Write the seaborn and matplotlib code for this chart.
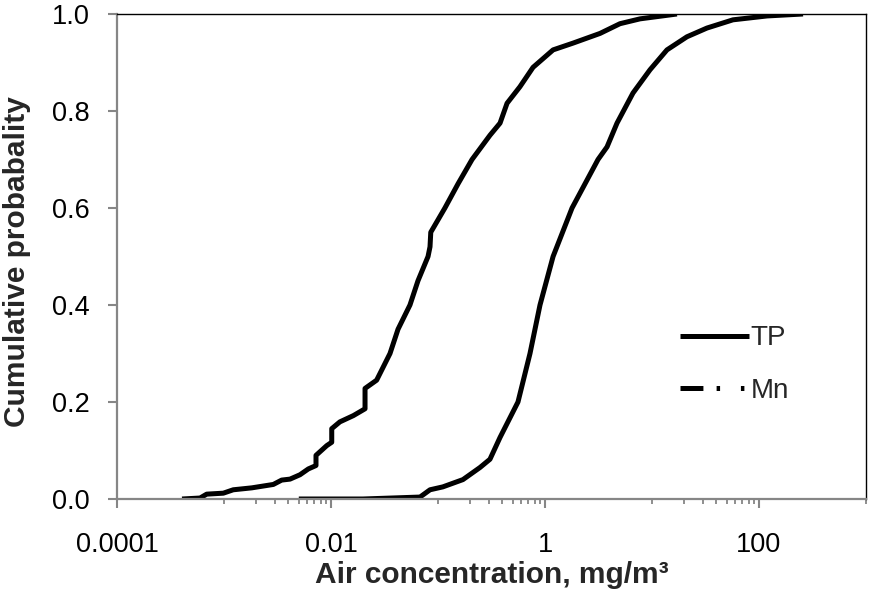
import matplotlib
matplotlib.use("Agg")
import matplotlib.pyplot as plt
import numpy as np
import pandas as pd
import seaborn as sns
from matplotlib.lines import Line2D
from matplotlib.ticker import FixedLocator, FixedFormatter, NullFormatter

# ---- data ----
series_names = ["TP", "Mn"]

tp_conc = [0.005, 0.0199, 0.0679, 0.0842, 0.111, 0.171, 0.247, 0.306, 0.380,
           0.559, 0.724, 0.898, 1.19, 1.79, 3.13, 3.80, 4.71, 6.64, 9.58,
           13.8, 21.2, 32.6, 57.1, 119, 258]
tp_prob = [0.0, 0.0, 0.004, 0.019, 0.025, 0.040, 0.065, 0.082, 0.127,
           0.20, 0.30, 0.40, 0.50, 0.60, 0.70, 0.726, 0.775, 0.837, 0.885,
           0.926, 0.953, 0.971, 0.988, 0.996, 1.0]

mn_conc = [0.000405, 0.000597, 0.000689, 0.000985, 0.00122, 0.00182, 0.00289,
           0.00346, 0.00414, 0.00513, 0.00614, 0.00724, 0.00724, 0.00912,
           0.01016, 0.01016, 0.0121, 0.0162, 0.0208, 0.0208, 0.0267, 0.0356,
           0.0423, 0.0547, 0.065, 0.0807, 0.0842, 0.0856, 0.116, 0.154, 0.208,
           0.306, 0.380, 0.442, 0.583, 0.773, 1.19, 1.83, 3.27, 4.32, 5.02,
           7.73, 17.1]
mn_prob = [0.0, 0.002, 0.010, 0.012, 0.019, 0.023, 0.030,
           0.039, 0.041, 0.050, 0.062, 0.069, 0.090, 0.110,
           0.117, 0.145, 0.159, 0.172, 0.186, 0.228, 0.245, 0.30,
           0.35, 0.40, 0.45, 0.50, 0.52, 0.55, 0.60, 0.65, 0.70,
           0.75, 0.775, 0.816, 0.85, 0.89, 0.926, 0.94, 0.96, 0.973, 0.98,
           0.99, 1.0]

x_major_ticks = [1e-4, 1e-2, 1, 100]
x_tick_labels = ["0.0001", "0.01", "1", "100"]
y_ticks = [0.0, 0.2, 0.4, 0.6, 0.8, 1.0]
y_tick_labels = ["0.0", "0.2", "0.4", "0.6", "0.8", "1.0"]

df = pd.DataFrame({
    "conc": tp_conc + mn_conc,
    "prob": tp_prob + mn_prob,
    "series": [series_names[0]] * len(tp_conc) + [series_names[1]] * len(mn_conc),
})

# ---- style ----
sns.set_theme(style="white")
plt.rcParams["font.family"] = ["Liberation Sans", "DejaVu Sans"]
plt.rcParams["lines.scale_dashes"] = False

W, H = 869, 589
fig = plt.figure(figsize=(W / 100, H / 100), dpi=100)
L, R, T, B = 117, 866, 14, 499
ax = fig.add_axes([L / W, 1 - B / H, (R - L) / W, (B - T) / H])

sns.lineplot(data=df, x="conc", y="prob", hue="series",
             palette={"TP": "black", "Mn": "black"},
             estimator=None, sort=False, units="series", legend=False,
             linewidth=3.6, ax=ax)
for ln in ax.lines:
    ln.set_solid_joinstyle("round")
    ln.set_solid_capstyle("butt")

ax.set_xscale("log")
ax.set_xlim(1e-4, 1e3)
ax.set_ylim(0, 1)

minor = [k * 10.0 ** e for e in (-3, -1, 1) for k in range(1, 10)] + [1000]
ax.xaxis.set_major_locator(FixedLocator(x_major_ticks))
ax.xaxis.set_major_formatter(FixedFormatter(x_tick_labels))
ax.xaxis.set_minor_locator(FixedLocator(minor))
ax.xaxis.set_minor_formatter(NullFormatter())
ax.yaxis.set_major_locator(FixedLocator(y_ticks))
ax.yaxis.set_major_formatter(FixedFormatter(y_tick_labels))

gray = "#868686"
for s in ("left", "bottom"):
    ax.spines[s].set_color(gray)
    ax.spines[s].set_linewidth(1.6)
for s in ("top", "right"):
    ax.spines[s].set_color("black")
    ax.spines[s].set_linewidth(1.0)

ax.tick_params(axis="both", which="major", direction="out", length=6.5,
               width=1.5, color=gray, labelsize=19.5, labelcolor="black")
ax.tick_params(axis="y", which="major", pad=13)
ax.tick_params(axis="x", which="major", pad=17)
ax.tick_params(axis="x", which="minor", direction="out", length=3.6,
               width=1.3, color=gray)
ax.tick_params(left=True, bottom=True, which="both")
ax.tick_params(axis="y", which="minor", left=False)

ax.set_xlabel("")
ax.set_ylabel("Cumulative probabality", fontsize=21.5, fontweight="bold")
ax.yaxis.set_label_coords((31 - L) / (R - L), 0.49)
fig.text(0.5 * (L + R) / W, (H - 583) / H, "Air concentration, mg/m³",
         ha="center", va="baseline", fontsize=21.5, fontweight="bold")

handles = [
    Line2D([], [], color="black", lw=3.6, solid_capstyle="butt"),
    Line2D([], [], color="black", lw=3.6, dash_capstyle="butt",
           dashes=(16.5, 9.5, 2.5, 15, 2.5, 30)),
]
leg = ax.legend(handles, series_names, loc="center left",
                bbox_to_anchor=(680 / W, 1 - 364.5 / H),
                bbox_transform=fig.transFigure, frameon=False,
                fontsize=20, handlelength=2.5, handletextpad=0.05,
                labelspacing=0.95, borderpad=0, borderaxespad=0)

fig.savefig("out.png", dpi=100)
